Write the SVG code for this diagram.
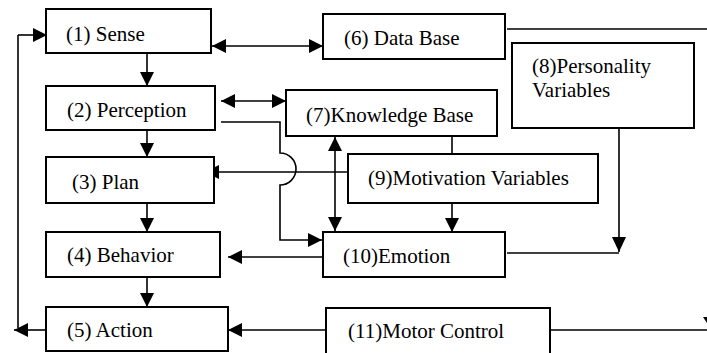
<svg xmlns="http://www.w3.org/2000/svg" width="707" height="353" viewBox="0 0 707 353">
<defs>
<marker id="ah" viewBox="0 0 14 14" refX="14" refY="7" markerWidth="14" markerHeight="14" markerUnits="userSpaceOnUse" orient="auto-start-reverse">
<path d="M0,0 L14,7 L0,14 Z" fill="#000"/>
</marker>
</defs>
<style>
.box{fill:#fff;stroke:#000;stroke-width:2}
text{font-family:'Liberation Serif','Times New Roman',serif;font-size:21px;fill:#000}
.c{fill:none;stroke:#000;stroke-width:1.6}
.a{marker-end:url(#ah)}
.b{marker-start:url(#ah);marker-end:url(#ah)}
.h{fill:#000}
</style>
<rect width="707" height="353" fill="#fff"/>
<g id="connectors">
<line class="c a" x1="147" y1="53" x2="147" y2="86"/>
<line class="c a" x1="147" y1="130" x2="147" y2="157"/>
<line class="c a" x1="147" y1="203" x2="147" y2="232"/>
<line class="c a" x1="147" y1="277" x2="147" y2="307"/>
<line class="c b" x1="212" y1="46" x2="323" y2="46"/>
<line class="c b" x1="221" y1="101" x2="286" y2="101"/>
<line class="c" x1="507" y1="29" x2="707" y2="29"/>
<line class="c" x1="452" y1="136" x2="452" y2="154"/>
<line class="c a" x1="452" y1="203" x2="452" y2="232"/>
<line class="c b" x1="335" y1="137" x2="335" y2="231"/>
<line class="c a" x1="348" y1="172" x2="205" y2="172"/>
<path class="c a" d="M221,122 L280,122 L280,153 A16,16 0 0 1 280,185 L280,240 L322,240"/>
<line class="c a" x1="323" y1="257" x2="228" y2="257"/>
<line class="c" x1="619" y1="128" x2="619" y2="252"/>
<path class="h" d="M612,237 L626,237 L619,252 Z"/>
<line class="c" x1="507" y1="253" x2="619" y2="253"/>
<line class="c a" x1="326" y1="330" x2="228" y2="330"/>
<line class="c" x1="547" y1="330" x2="707" y2="330"/>
<path class="h" d="M703,317 L711,317 L707,323 Z"/>
<line class="c a" x1="46" y1="330" x2="14" y2="330"/>
<line class="c" x1="18" y1="35" x2="18" y2="328"/>
<line class="c a" x1="18" y1="35" x2="47" y2="35"/>
</g>
<g id="n1"><rect class="box" x="46" y="9" width="165" height="44"/><text x="66" y="40.5">(1) Sense</text></g>
<g id="n2"><rect class="box" x="46" y="86" width="169" height="44"/><text x="67" y="116.5">(2) Perception</text></g>
<g id="n3"><rect class="box" x="46" y="157" width="168" height="46"/><text x="72" y="189">(3) Plan</text></g>
<g id="n4"><rect class="box" x="46" y="232" width="174" height="45"/><text x="67" y="261.5">(4) Behavior</text></g>
<g id="n5"><rect class="box" x="46" y="307" width="182" height="44"/><text x="67" y="336.5">(5) Action</text></g>
<g id="n6"><rect class="box" x="323" y="14" width="182" height="45"/><text x="344" y="45">(6) Data Base</text></g>
<g id="n7"><rect class="box" x="286" y="90" width="211" height="46"/><text x="306" y="121.5">(7)Knowledge Base</text></g>
<g id="n8"><rect class="box" x="512" y="43" width="182" height="85"/><text x="532" y="72.5">(8)Personality</text><text x="532" y="97">Variables</text></g>
<g id="n9"><rect class="box" x="348" y="154" width="250" height="49"/><text x="368" y="185">(9)Motivation Variables</text></g>
<g id="n10"><rect class="box" x="323" y="232" width="182" height="45"/><text x="343" y="262.5">(10)Emotion</text></g>
<g id="n11"><rect class="box" x="326" y="308" width="224" height="50"/><text x="348" y="338">(11)Motor Control</text></g>
</svg>
